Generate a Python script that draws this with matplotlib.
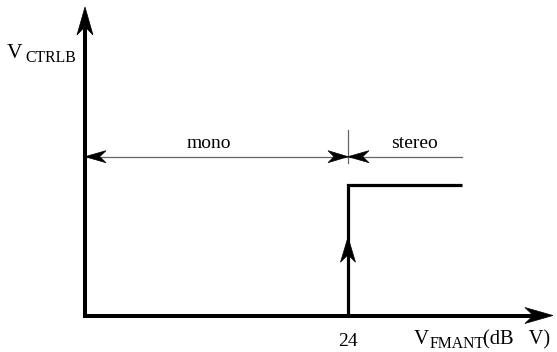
import matplotlib
matplotlib.use("Agg")
import matplotlib.pyplot as plt
from matplotlib.patches import Polygon
from matplotlib.transforms import IdentityTransform
import numpy as np

# ---- data ----
threshold_db = 24                 # switch-over point (dB uV)
step_x = [24, 24, 34.4]           # control output: low below 24, high above
step_y = [0, 1, 1]
x_axis_max = 42.7
y_axis_max = 2.364
region_labels = ["mono", "stereo"]
dim_x = [0, 34.4]
dim_y = 1.217
dim_tick_y = [1.17, 1.421]
up_arrow_y = 0.60
tick_labels = ["24"]

# ---- figure ----
W, H = 557, 352
fig = plt.figure(figsize=(W / 100, H / 100), dpi=100)
ax = fig.add_axes([0, 0, 1, 1])
kx = 263 / 24.0
ky = 130.5
x0, y0 = 85, 315.5
ax.set_xlim(-x0 / kx, (W - x0) / kx)
ax.set_ylim(-(H - y0) / ky, y0 / ky)
ax.axis("off")
fig.canvas.draw()

FONT = "Liberation Serif"


def px(x, y):
    return (x / W, 1 - y / H)


def head(tip, direction, L, hw, notch=0.3, color="black"):
    t = ax.transData.transform(tip)
    d = np.asarray(direction, float)
    d = d / np.linalg.norm(d)
    n = np.array([-d[1], d[0]])
    base = t - d * L
    pts = [t, base + n * hw, t - d * L * (1 - notch), base - n * hw]
    ax.add_patch(Polygon(pts, closed=True, transform=IdentityTransform(),
                         facecolor=color, edgecolor=color, lw=0.5, zorder=5))
    back = ax.transData.inverted().transform(t - d * L * (1 - notch))
    return back


# axes with arrows
yb = head((0, y_axis_max), (0, 1), 28, 8)
xb = head((x_axis_max, 0), (1, 0), 28, 8)
ax.plot([0, 0, xb[0]], [yb[1], 0, 0], color="black", lw=2.9,
        solid_joinstyle="miter", solid_capstyle="butt", zorder=4)

# step
ax.plot(step_x, step_y, color="black", lw=2.3, solid_joinstyle="miter",
        solid_capstyle="butt", zorder=4)
head((threshold_db, up_arrow_y), (0, 1), 25, 7.5)

# dimension line
ax.plot(dim_x, [dim_y, dim_y], color="#666666", lw=0.9, zorder=3)
ax.plot([threshold_db, threshold_db], dim_tick_y, color="#666666", lw=0.9, zorder=3)
head((dim_x[0], dim_y), (-1, 0), 21, 6)
head((threshold_db, dim_y), (1, 0), 20, 6)
head((threshold_db, dim_y), (-1, 0), 21, 6)

# texts
fig.text(*px(209, 147.7), region_labels[0], fontsize=14, family=FONT,
         ha="center", va="baseline")
fig.text(*px(414.5, 147.7), region_labels[1], fontsize=14, family=FONT,
         ha="center", va="baseline")
fig.text(*px(347.5, 346), tick_labels[0], fontsize=14, family=FONT,
         ha="center", va="baseline")

fig.text(*px(7, 58), "V", fontsize=15.5, family=FONT, ha="left", va="baseline")
fig.text(*px(25, 62), "CTRLB", fontsize=11.3, family=FONT, ha="left", va="baseline")

fig.text(*px(414, 344), "V", fontsize=15, family=FONT, ha="left", va="baseline")
fig.text(*px(430, 348), "FMANT", fontsize=11.3, family=FONT, ha="left", va="baseline")
fig.text(*px(483, 344), "(dB   V)", fontsize=14.8, family=FONT, ha="left", va="baseline")

fig.savefig("out.png", dpi=100, facecolor="white")
